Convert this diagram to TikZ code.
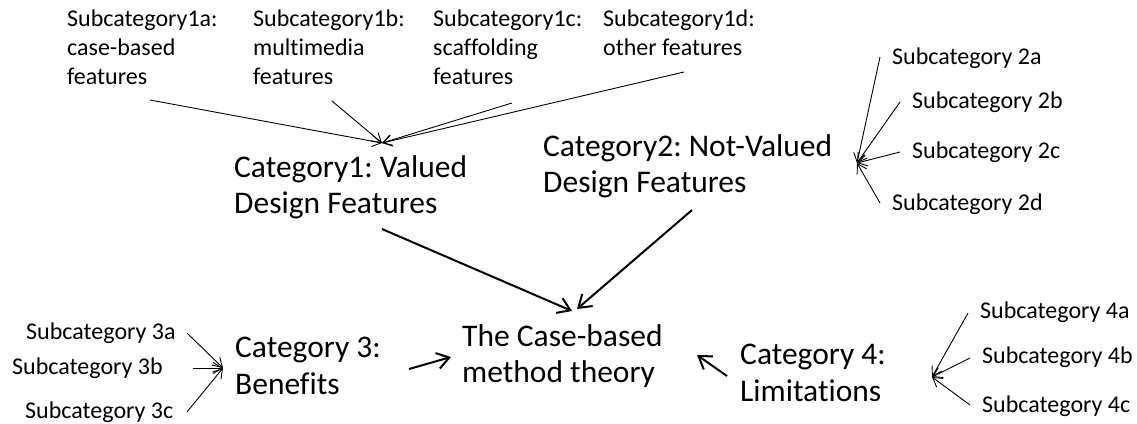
\documentclass[tikz,border=0pt]{standalone}
\usepackage{fontspec}
\setmainfont{Carlito}[Ligatures={NoCommon}]
\usetikzlibrary{arrows.meta}
\frenchspacing
\begin{document}
\begin{tikzpicture}[x=1pt,y=-1pt,
  sub/.style={font=\fontsize{24}{29}\selectfont, inner sep=0pt, align=left},
  cat/.style={font=\fontsize{31.5}{36.5}\selectfont, inner sep=0pt, align=left},
  thinarrow/.style={-{Straight Barb[length=9pt,width=11pt]}, line width=0.9pt},
  thickarrow/.style={-{Straight Barb[length=12pt,width=16pt]}, line width=2pt}]
\useasboundingbox (0,0) rectangle (1137,423);

% Subcategories of category 1
\node[sub, anchor=north west] (s1a) at (67,10) {Subcategory1a:\\case-based\\features};
\node[sub, anchor=north west] (s1b) at (253,10) {Subcategory1b:\\multimedia\\features};
\node[sub, anchor=north west] (s1c) at (433,10) {Subcategory1c:\\scaffolding\\features};
\node[sub, anchor=north west] (s1d) at (603,10) {Subcategory1d:\\other features};

% Categories and the central theory
\node[cat, anchor=north west] (c1) at (234,155) {Category1: Valued\\Design Features};
\node[cat, anchor=north west] (c2) at (543,134) {Category2: Not-Valued\\Design Features};
\node[cat, anchor=north west] (th) at (462,324) {The Case-based\\method theory};
\node[cat, anchor=north west] (c3) at (235,337) {Category 3:\\Benefits};
\node[cat, anchor=north west] (c4) at (740,344) {Category 4:\\Limitations};

% Subcategories of category 2
\node[sub, anchor=west] (s2a) at (892,58) {Subcategory 2a};
\node[sub, anchor=west] (s2b) at (912,102) {Subcategory 2b};
\node[sub, anchor=west] (s2c) at (912,152) {Subcategory 2c};
\node[sub, anchor=west] (s2d) at (892,204) {Subcategory 2d};

% Subcategories of category 3
\node[sub, anchor=west] (s3a) at (26,333) {Subcategory 3a};
\node[sub, anchor=west] (s3b) at (12,368) {Subcategory 3b};
\node[sub, anchor=west] (s3c) at (25,412) {Subcategory 3c};

% Subcategories of category 4
\node[sub, anchor=west] (s4a) at (980,312) {Subcategory 4a};
\node[sub, anchor=west] (s4b) at (982,357) {Subcategory 4b};
\node[sub, anchor=west] (s4c) at (982,406) {Subcategory 4c};

% Connector end points
\coordinate (p1) at (382,143);
\coordinate (p2) at (857,163);
\coordinate (p3) at (223,368);
\coordinate (p4) at (932,377);
\coordinate (a1a) at (150,100);
\coordinate (a1b) at (332,101);
\coordinate (a1c) at (512,103);
\coordinate (a1d) at (684,72);
\coordinate (a2a) at (880,57);
\coordinate (a2b) at (900,102);
\coordinate (a2c) at (900,152);
\coordinate (a2d) at (880,203);
\coordinate (a3a) at (187,333);
\coordinate (a3b) at (193,368);
\coordinate (a3c) at (187,412);
\coordinate (a4a) at (968,313);
\coordinate (a4b) at (970,358);
\coordinate (a4c) at (970,405);

\foreach \t in {a1a,a1b,a1c,a1d} \draw[thinarrow] (\t) -- (p1);
\foreach \t in {a2a,a2b,a2c,a2d} \draw[thinarrow] (\t) -- (p2);
\foreach \t in {a3a,a3b,a3c} \draw[thinarrow] (\t) -- (p3);
\foreach \t in {a4a,a4b,a4c} \draw[thinarrow] (\t) -- (p4);

% Categories feeding the theory
\coordinate (b1) at (382,229);
\coordinate (e1) at (572,311);
\coordinate (b2) at (692,210);
\coordinate (e2) at (577,309);
\coordinate (b3) at (409,369);
\coordinate (e3) at (451,357);
\coordinate (b4) at (727,376);
\coordinate (e4) at (697,355);
\draw[thickarrow] (b1) -- (e1);
\draw[thickarrow] (b2) -- (e2);
\draw[thickarrow] (b3) -- (e3);
\draw[thickarrow] (b4) -- (e4);
\end{tikzpicture}
\end{document}
